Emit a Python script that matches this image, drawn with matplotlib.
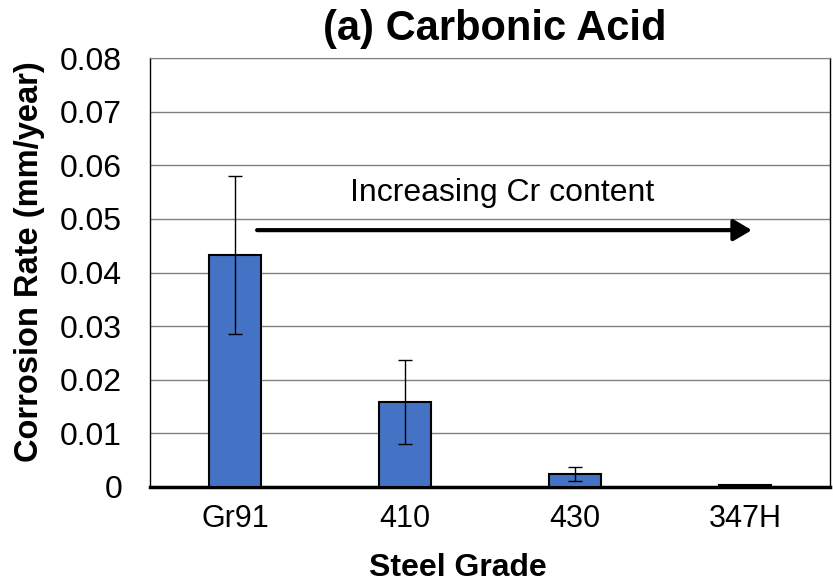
import matplotlib
matplotlib.use("Agg")
import matplotlib.pyplot as plt

plt.rcParams['font.family'] = ['Liberation Sans', 'DejaVu Sans']

grades = ["Gr91", "410", "430", "347H"]
rates = [0.0433, 0.0159, 0.0024, 0.0004]
errors = [0.0147, 0.0078, 0.0013, 0.0]

W, H = 833, 584
fig = plt.figure(figsize=(W / 100, H / 100), dpi=100)
ax = fig.add_axes([150 / W, 1 - 487 / H, 680 / W, 429 / H])

x = list(range(len(grades)))
ax.bar(x, rates, width=0.31, color="#4472C4", edgecolor="black", linewidth=1.5, zorder=3)
ax.errorbar(x[:3], rates[:3], yerr=errors[:3], fmt="none", ecolor="black",
            elinewidth=1.0, capsize=4.7, capthick=1.0, zorder=4)

ax.set_xlim(-0.5, 3.5)
ax.set_ylim(0, 0.08)
ax.set_yticks([i / 100 for i in range(9)])
ax.set_yticklabels(["0"] + [f"{i/100:.2f}" for i in range(1, 9)])
ax.set_xticks(x)
ax.set_xticklabels(grades)
ax.tick_params(axis="both", length=0)
ax.tick_params(axis="y", pad=20, labelsize=23)
ax.tick_params(axis="x", pad=12, labelsize=22)
ax.grid(axis="y", color="#808080", linewidth=1.0, zorder=0)

for side in ["left", "right"]:
    ax.spines[side].set_color("black")
    ax.spines[side].set_linewidth(1.0)
ax.spines["top"].set_color("#808080")
ax.spines["bottom"].set_linewidth(2.5)
ax.spines["bottom"].set_color("black")


def px(xp, yp):
    return xp / W, 1 - yp / H


fig.text(*px(495, 29), "(a) Carbonic Acid", fontsize=30, fontweight="bold",
         ha="center", va="center")
fig.text(*px(458, 568), "Steel Grade", fontsize=23, fontweight="bold",
         ha="center", va="center")
fig.text(*px(30, 262), "Corrosion Rate (mm/year)", fontsize=23.5, fontweight="bold",
         ha="center", va="center", rotation=90)

ax.annotate("", xy=(3.04, 0.0479), xytext=(0.13, 0.0479),
            arrowprops=dict(arrowstyle="-|>,head_length=1.1,head_width=0.65",
                            color="black", lw=3, shrinkA=0, shrinkB=0), zorder=5)
ax.text(1.57, 0.0548, "Increasing Cr content", fontsize=23, ha="center", va="center")

fig.savefig("out.png", dpi=100)
